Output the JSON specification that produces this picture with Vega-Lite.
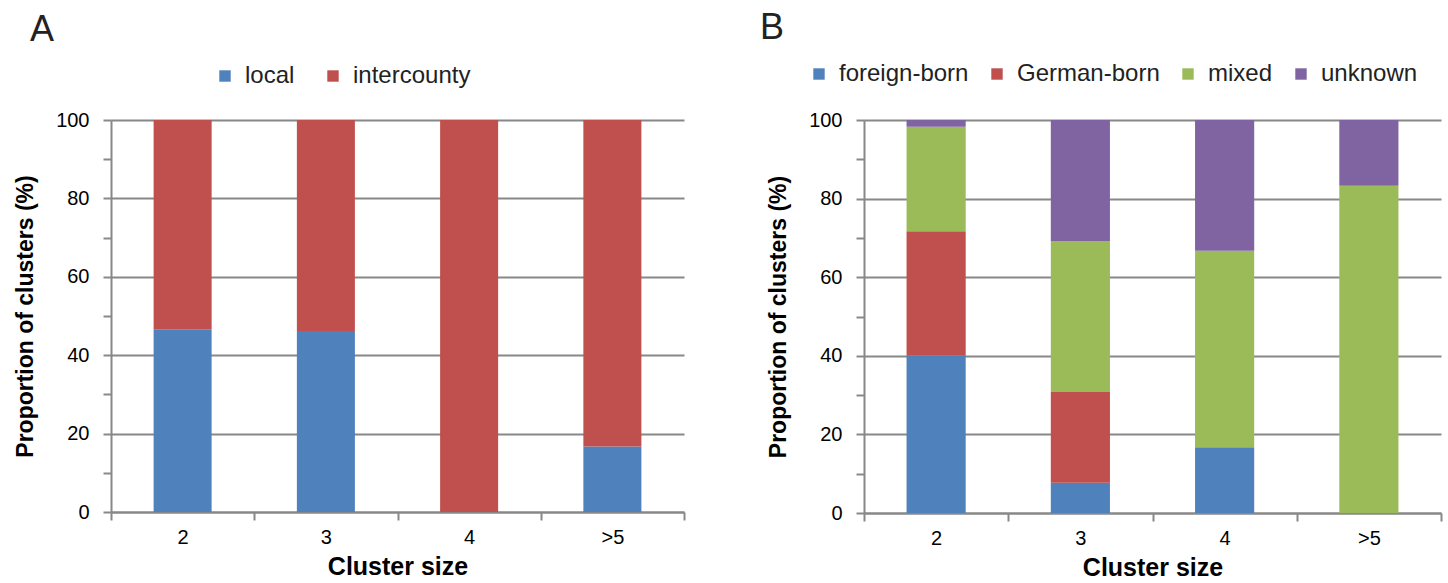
{
  "$schema": "https://vega.github.io/schema/vega-lite/v6.json",
  "padding": {"left": 14, "top": 10, "right": 4, "bottom": 0},
  "config": {
    "font": "Liberation Sans",
    "view": {"stroke": null},
    "axis": {
      "labelFont": "Liberation Sans", "labelFontSize": 20, "labelColor": "#000",
      "titleFont": "Liberation Sans", "titleFontWeight": "bold", "titleColor": "#000",
      "domainColor": "#888", "domainWidth": 2, "tickColor": "#888", "tickWidth": 2, "tickSize": 8,
      "gridColor": "#888", "gridWidth": 2
    },
    "legend": {
      "labelFont": "Liberation Sans", "labelFontSize": 24, "labelColor": "#222",
      "symbolType": "square", "symbolSize": 130, "symbolStrokeWidth": 0, "labelOffset": 8
    },
    "title": {"font": "Liberation Sans", "fontSize": 36, "fontWeight": "normal", "anchor": "start", "color": "#222"}
  },
  "datasets": {
    "a": [
      {"size": "2", "type": "local", "pct": 46.6},
      {"size": "2", "type": "intercounty", "pct": 53.4},
      {"size": "3", "type": "local", "pct": 46.2},
      {"size": "3", "type": "intercounty", "pct": 53.8},
      {"size": "4", "type": "local", "pct": 0},
      {"size": "4", "type": "intercounty", "pct": 100},
      {"size": ">5", "type": "local", "pct": 16.7},
      {"size": ">5", "type": "intercounty", "pct": 83.3}
    ],
    "b": [
      {"size": "2", "origin": "foreign-born", "pct": 40.0},
      {"size": "2", "origin": "German-born", "pct": 31.7},
      {"size": "2", "origin": "mixed", "pct": 26.6},
      {"size": "2", "origin": "unknown", "pct": 1.7},
      {"size": "3", "origin": "foreign-born", "pct": 7.7},
      {"size": "3", "origin": "German-born", "pct": 23.1},
      {"size": "3", "origin": "mixed", "pct": 38.4},
      {"size": "3", "origin": "unknown", "pct": 30.8},
      {"size": "4", "origin": "foreign-born", "pct": 16.7},
      {"size": "4", "origin": "German-born", "pct": 0},
      {"size": "4", "origin": "mixed", "pct": 50.0},
      {"size": "4", "origin": "unknown", "pct": 33.3},
      {"size": ">5", "origin": "foreign-born", "pct": 0},
      {"size": ">5", "origin": "German-born", "pct": 0},
      {"size": ">5", "origin": "mixed", "pct": 83.3},
      {"size": ">5", "origin": "unknown", "pct": 16.7}
    ]
  },
  "spacing": 75,
  "resolve": {"scale": {"color": "independent"}, "legend": {"color": "independent"}},
  "hconcat": [
    {
      "width": 573, "height": 392,
      "title": {"text": "A", "frame": "group", "dx": -81, "offset": 15},
      "data": {"name": "a"},
      "transform": [{"calculate": "indexof(['local','intercounty'], datum.type)", "as": "k"}],
      "mark": {"type": "bar", "width": {"band": 0.405}},
      "encoding": {
        "x": {
          "field": "size", "type": "ordinal", "sort": ["2", "3", "4", ">5"],
          "scale": {"paddingInner": 0, "paddingOuter": 0},
          "axis": {"labelAngle": 0, "tickBand": "extent", "title": "Cluster size", "titleFontSize": 25, "labelPadding": 7, "titlePadding": 7}
        },
        "y": {
          "field": "pct", "type": "quantitative", "stack": "zero",
          "scale": {"domain": [0, 100], "nice": false},
          "axis": {
            "values": [0, 10, 20, 30, 40, 50, 60, 70, 80, 90, 100],
            "labelExpr": "datum.value % 20 == 0 ? datum.label : ''",
            "gridOpacity": {"condition": {"test": "datum.value % 20 == 0", "value": 1}, "value": 0},
            "title": "Proportion of clusters (%)", "titleFontSize": 23, "labelPadding": 14, "titlePadding": 18
          }
        },
        "color": {
          "field": "type", "type": "nominal",
          "scale": {"domain": ["local", "intercounty"], "range": ["#4F81BD", "#C0504D"]},
          "legend": {"orient": "none", "direction": "horizontal", "legendX": 102, "legendY": -56, "title": null, "columnPadding": 26}
        },
        "order": {"field": "k"}
      }
    },
    {
      "width": 577, "height": 393,
      "title": {"text": "B", "frame": "group", "dx": -104, "offset": 15},
      "data": {"name": "b"},
      "transform": [{"calculate": "indexof(['foreign-born','German-born','mixed','unknown'], datum.origin)", "as": "k"}],
      "mark": {"type": "bar", "width": {"band": 0.41}},
      "encoding": {
        "x": {
          "field": "size", "type": "ordinal", "sort": ["2", "3", "4", ">5"],
          "scale": {"paddingInner": 0, "paddingOuter": 0},
          "axis": {"labelAngle": 0, "tickBand": "extent", "title": "Cluster size", "titleFontSize": 25, "labelPadding": 7, "titlePadding": 7}
        },
        "y": {
          "field": "pct", "type": "quantitative", "stack": "zero",
          "scale": {"domain": [0, 100], "nice": false},
          "axis": {
            "values": [0, 10, 20, 30, 40, 50, 60, 70, 80, 90, 100],
            "labelExpr": "datum.value % 20 == 0 ? datum.label : ''",
            "gridOpacity": {"condition": {"test": "datum.value % 20 == 0", "value": 1}, "value": 0},
            "title": "Proportion of clusters (%)", "titleFontSize": 23, "labelPadding": 14, "titlePadding": 18
          }
        },
        "color": {
          "field": "origin", "type": "nominal",
          "scale": {"domain": ["foreign-born", "German-born", "mixed", "unknown"], "range": ["#4F81BD", "#C0504D", "#9BBB59", "#8064A2"]},
          "legend": {"orient": "none", "direction": "horizontal", "legendX": -57, "legendY": -58, "title": null, "columnPadding": 16}
        },
        "order": {"field": "k"}
      }
    }
  ]
}
